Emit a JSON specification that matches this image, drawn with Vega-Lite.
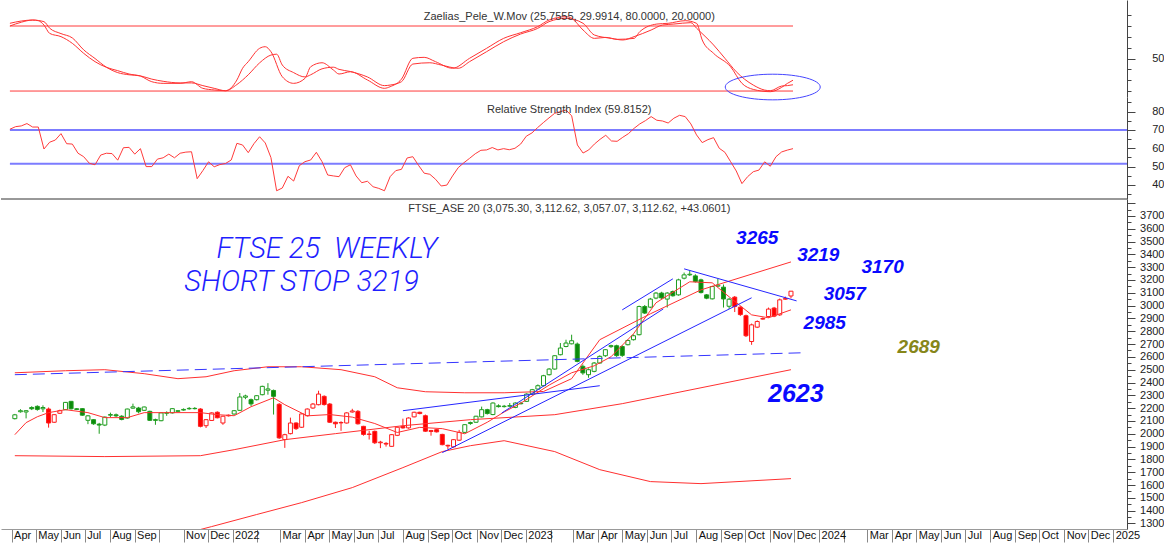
{
"$schema":"https://vega.github.io/schema/vega-lite/v6.json",
"padding":0,
"spacing":0,
"bounds":"flush",
"config":{"view":{"stroke":null},"font":"Liberation Sans","axis":{"labelFont":"Liberation Sans","labelFontSize":11,"labelColor":"#222","domainColor":"#444","tickColor":"#444","grid":false,"title":null}},
"datasets":{
"w":[
{"d":"2021-04-05","o":2118,"h":2155,"l":2112,"c":2148,"t":"G","r":70.4},
{"d":"2021-04-12","o":2172,"h":2192,"l":2165,"c":2180,"t":"G","r":71.8},
{"d":"2021-04-19","o":2170,"h":2185,"l":2120,"c":2180,"t":"G","r":72.2},
{"d":"2021-04-26","o":2205,"h":2215,"l":2185,"c":2195,"t":"G","r":73.5},
{"d":"2021-05-03","o":2214,"h":2222,"l":2180,"c":2190,"t":"G","r":71.6},
{"d":"2021-05-10","o":2195,"h":2222,"l":2170,"c":2205,"t":"G","r":71.6},
{"d":"2021-05-17","o":2193,"h":2205,"l":2048,"c":2084,"t":"R","r":59.6},
{"d":"2021-05-24","o":2090,"h":2152,"l":2085,"c":2149,"t":"R","r":63.3},
{"d":"2021-05-31","o":2160,"h":2188,"l":2155,"c":2180,"t":"R","r":64.5},
{"d":"2021-06-07","o":2188,"h":2248,"l":2185,"c":2245,"t":"G","r":68.0},
{"d":"2021-06-14","o":2253,"h":2256,"l":2190,"c":2195,"t":"G","r":62.5},
{"d":"2021-06-21","o":2195,"h":2200,"l":2185,"c":2190,"t":"G","r":62.3},
{"d":"2021-06-28","o":2196,"h":2200,"l":2140,"c":2145,"t":"G","r":57.3},
{"d":"2021-07-05","o":2105,"h":2145,"l":2075,"c":2140,"t":"G","r":55.4},
{"d":"2021-07-12","o":2110,"h":2115,"l":2070,"c":2078,"t":"G","r":51.8},
{"d":"2021-07-19","o":2075,"h":2085,"l":2000,"c":2068,"t":"G","r":51.0},
{"d":"2021-07-26","o":2068,"h":2135,"l":2060,"c":2130,"t":"G","r":56.3},
{"d":"2021-08-02","o":2145,"h":2165,"l":2130,"c":2150,"t":"G","r":57.3},
{"d":"2021-08-09","o":2148,"h":2158,"l":2130,"c":2140,"t":"G","r":57.1},
{"d":"2021-08-16","o":2137,"h":2145,"l":2105,"c":2112,"t":"G","r":53.5},
{"d":"2021-08-23","o":2123,"h":2196,"l":2118,"c":2193,"t":"G","r":60.3},
{"d":"2021-08-30","o":2200,"h":2235,"l":2195,"c":2210,"t":"G","r":60.5},
{"d":"2021-09-06","o":2201,"h":2210,"l":2160,"c":2172,"t":"G","r":56.8},
{"d":"2021-09-13","o":2183,"h":2212,"l":2178,"c":2209,"t":"G","r":59.8},
{"d":"2021-09-20","o":2175,"h":2180,"l":2100,"c":2105,"t":"G","r":50.0},
{"d":"2021-09-27","o":2110,"h":2118,"l":2070,"c":2105,"t":"G","r":50.0},
{"d":"2021-10-04","o":2102,"h":2168,"l":2098,"c":2163,"t":"G","r":54.1},
{"d":"2021-10-11","o":2160,"h":2175,"l":2140,"c":2165,"t":"G","r":54.8},
{"d":"2021-10-18","o":2163,"h":2200,"l":2158,"c":2196,"t":"G","r":56.8},
{"d":"2021-10-25","o":2175,"h":2185,"l":2170,"c":2180,"t":"G","r":54.8},
{"d":"2021-11-01","o":2185,"h":2198,"l":2180,"c":2190,"t":"G","r":57.3},
{"d":"2021-11-08","o":2195,"h":2208,"l":2188,"c":2198,"t":"G","r":57.9},
{"d":"2021-11-15","o":2198,"h":2208,"l":2190,"c":2196,"t":"G","r":58.1},
{"d":"2021-11-22","o":2193,"h":2200,"l":2050,"c":2058,"t":"R","r":43.4},
{"d":"2021-11-29","o":2063,"h":2115,"l":2045,"c":2110,"t":"R","r":47.8},
{"d":"2021-12-06","o":2104,"h":2168,"l":2100,"c":2163,"t":"R","r":52.6},
{"d":"2021-12-13","o":2168,"h":2175,"l":2120,"c":2125,"t":"R","r":49.9},
{"d":"2021-12-20","o":2084,"h":2140,"l":2070,"c":2137,"t":"R","r":51.1},
{"d":"2021-12-27","o":2140,"h":2150,"l":2135,"c":2145,"t":"R","r":51.7},
{"d":"2022-01-03","o":2154,"h":2185,"l":2150,"c":2180,"t":"G","r":53.6},
{"d":"2022-01-10","o":2183,"h":2318,"l":2178,"c":2287,"t":"G","r":62.7},
{"d":"2022-01-17","o":2285,"h":2305,"l":2270,"c":2295,"t":"G","r":61.8},
{"d":"2022-01-24","o":2266,"h":2275,"l":2215,"c":2233,"t":"G","r":57.6},
{"d":"2022-01-31","o":2266,"h":2300,"l":2260,"c":2297,"t":"G","r":62.5},
{"d":"2022-02-07","o":2305,"h":2375,"l":2300,"c":2370,"t":"G","r":66.3},
{"d":"2022-02-14","o":2340,"h":2395,"l":2305,"c":2350,"t":"G","r":62.9},
{"d":"2022-02-21","o":2338,"h":2345,"l":2150,"c":2292,"t":"G","r":54.9},
{"d":"2022-02-28","o":2230,"h":2240,"l":1960,"c":1968,"t":"R","r":36.8},
{"d":"2022-03-07","o":1955,"h":2000,"l":1890,"c":1993,"t":"R","r":38.3},
{"d":"2022-03-14","o":2001,"h":2126,"l":1995,"c":2084,"t":"R","r":44.7},
{"d":"2022-03-21","o":2084,"h":2090,"l":2030,"c":2040,"t":"R","r":42.1},
{"d":"2022-03-28","o":2051,"h":2160,"l":2045,"c":2155,"t":"R","r":50.5},
{"d":"2022-04-04","o":2141,"h":2198,"l":2135,"c":2193,"t":"R","r":52.7},
{"d":"2022-04-11","o":2201,"h":2240,"l":2195,"c":2232,"t":"R","r":53.6},
{"d":"2022-04-18","o":2227,"h":2336,"l":2222,"c":2310,"t":"R","r":57.8},
{"d":"2022-04-25","o":2292,"h":2300,"l":2220,"c":2228,"t":"R","r":52.7},
{"d":"2022-05-02","o":2232,"h":2240,"l":2085,"c":2090,"t":"R","r":45.4},
{"d":"2022-05-09","o":2090,"h":2095,"l":2045,"c":2078,"t":"R","r":44.9},
{"d":"2022-05-16","o":2085,"h":2098,"l":2023,"c":2088,"t":"R","r":44.5},
{"d":"2022-05-23","o":2084,"h":2168,"l":2080,"c":2163,"t":"R","r":49.4},
{"d":"2022-05-30","o":2170,"h":2195,"l":2165,"c":2178,"t":"R","r":51.0},
{"d":"2022-06-06","o":2175,"h":2185,"l":2072,"c":2078,"t":"R","r":44.9},
{"d":"2022-06-13","o":2058,"h":2062,"l":1985,"c":1995,"t":"R","r":41.2},
{"d":"2022-06-20","o":1995,"h":2023,"l":1955,"c":1998,"t":"R","r":42.0},
{"d":"2022-06-27","o":2019,"h":2025,"l":1920,"c":1930,"t":"R","r":39.0},
{"d":"2022-07-04","o":1930,"h":1945,"l":1888,"c":1935,"t":"R","r":38.1},
{"d":"2022-07-11","o":1925,"h":1935,"l":1900,"c":1920,"t":"R","r":36.8},
{"d":"2022-07-18","o":1902,"h":1998,"l":1898,"c":1993,"t":"R","r":44.5},
{"d":"2022-07-25","o":1988,"h":2055,"l":1982,"c":2051,"t":"R","r":47.8},
{"d":"2022-08-01","o":2058,"h":2118,"l":2040,"c":2046,"t":"R","r":48.5},
{"d":"2022-08-08","o":2046,"h":2128,"l":2040,"c":2123,"t":"R","r":54.7},
{"d":"2022-08-15","o":2132,"h":2172,"l":2128,"c":2168,"t":"R","r":55.4},
{"d":"2022-08-22","o":2168,"h":2172,"l":2152,"c":2158,"t":"R","r":50.7},
{"d":"2022-08-29","o":2141,"h":2150,"l":2015,"c":2020,"t":"R","r":46.4},
{"d":"2022-09-05","o":2025,"h":2030,"l":1985,"c":2018,"t":"R","r":45.8},
{"d":"2022-09-12","o":2032,"h":2036,"l":2010,"c":2015,"t":"R","r":43.1},
{"d":"2022-09-19","o":1995,"h":2000,"l":1910,"c":1915,"t":"R","r":39.4},
{"d":"2022-09-26","o":1910,"h":1915,"l":1880,"c":1905,"t":"R","r":39.9},
{"d":"2022-10-03","o":1898,"h":1958,"l":1893,"c":1954,"t":"R","r":44.9},
{"d":"2022-10-10","o":1950,"h":2030,"l":1945,"c":2011,"t":"R","r":49.4},
{"d":"2022-10-17","o":2011,"h":2075,"l":2005,"c":2071,"t":"G","r":52.1},
{"d":"2022-10-24","o":2080,"h":2095,"l":2070,"c":2088,"t":"G","r":54.5},
{"d":"2022-10-31","o":2090,"h":2140,"l":2085,"c":2137,"t":"G","r":57.0},
{"d":"2022-11-07","o":2132,"h":2212,"l":2128,"c":2188,"t":"G","r":58.9},
{"d":"2022-11-14","o":2188,"h":2195,"l":2150,"c":2158,"t":"G","r":59.1},
{"d":"2022-11-21","o":2150,"h":2245,"l":2145,"c":2240,"t":"G","r":60.4},
{"d":"2022-11-28","o":2218,"h":2230,"l":2205,"c":2212,"t":"G","r":59.1},
{"d":"2022-12-05","o":2212,"h":2225,"l":2205,"c":2215,"t":"G","r":59.8},
{"d":"2022-12-12","o":2215,"h":2240,"l":2210,"c":2220,"t":"G","r":59.2},
{"d":"2022-12-19","o":2206,"h":2245,"l":2200,"c":2240,"t":"G","r":60.0},
{"d":"2022-12-26","o":2235,"h":2250,"l":2228,"c":2238,"t":"G","r":62.3},
{"d":"2023-01-02","o":2253,"h":2315,"l":2248,"c":2310,"t":"G","r":66.6},
{"d":"2023-01-09","o":2310,"h":2350,"l":2305,"c":2344,"t":"G","r":68.4},
{"d":"2023-01-16","o":2349,"h":2385,"l":2345,"c":2375,"t":"G","r":71.3},
{"d":"2023-01-23","o":2375,"h":2460,"l":2370,"c":2453,"t":"G","r":74.0},
{"d":"2023-01-30","o":2461,"h":2512,"l":2455,"c":2505,"t":"G","r":76.6},
{"d":"2023-02-06","o":2505,"h":2612,"l":2500,"c":2609,"t":"G","r":79.1},
{"d":"2023-02-13","o":2617,"h":2708,"l":2612,"c":2669,"t":"G","r":80.0},
{"d":"2023-02-20","o":2681,"h":2734,"l":2675,"c":2708,"t":"G","r":80.9},
{"d":"2023-02-27","o":2702,"h":2773,"l":2698,"c":2726,"t":"G","r":77.7},
{"d":"2023-03-06","o":2700,"h":2712,"l":2558,"c":2565,"t":"G","r":61.8},
{"d":"2023-03-13","o":2526,"h":2540,"l":2460,"c":2475,"t":"G","r":57.4},
{"d":"2023-03-20","o":2461,"h":2510,"l":2437,"c":2500,"t":"G","r":59.1},
{"d":"2023-03-27","o":2487,"h":2560,"l":2480,"c":2552,"t":"G","r":62.3},
{"d":"2023-04-03","o":2552,"h":2612,"l":2548,"c":2604,"t":"G","r":64.9},
{"d":"2023-04-10","o":2609,"h":2660,"l":2600,"c":2656,"t":"G","r":67.1},
{"d":"2023-04-17","o":2680,"h":2695,"l":2670,"c":2688,"t":"G","r":64.0},
{"d":"2023-04-24","o":2687,"h":2695,"l":2600,"c":2610,"t":"G","r":63.8},
{"d":"2023-05-01","o":2681,"h":2690,"l":2600,"c":2612,"t":"G","r":66.0},
{"d":"2023-05-08","o":2695,"h":2735,"l":2690,"c":2728,"t":"G","r":68.0},
{"d":"2023-05-15","o":2734,"h":2775,"l":2728,"c":2765,"t":"G","r":70.9},
{"d":"2023-05-22","o":2773,"h":3000,"l":2768,"c":2993,"t":"G","r":73.3},
{"d":"2023-05-29","o":2993,"h":3005,"l":2935,"c":2942,"t":"G","r":75.1},
{"d":"2023-06-05","o":2988,"h":3060,"l":2980,"c":3051,"t":"G","r":77.3},
{"d":"2023-06-12","o":3059,"h":3105,"l":3050,"c":3098,"t":"G","r":75.3},
{"d":"2023-06-19","o":3098,"h":3108,"l":3052,"c":3060,"t":"G","r":74.9},
{"d":"2023-06-26","o":3051,"h":3105,"l":2985,"c":3098,"t":"G","r":73.8},
{"d":"2023-07-03","o":3110,"h":3118,"l":3070,"c":3077,"t":"G","r":76.4},
{"d":"2023-07-10","o":3084,"h":3210,"l":3078,"c":3201,"t":"G","r":78.0},
{"d":"2023-07-17","o":3214,"h":3258,"l":3205,"c":3240,"t":"G","r":77.3},
{"d":"2023-07-24","o":3240,"h":3274,"l":3232,"c":3245,"t":"G","r":73.3},
{"d":"2023-07-31","o":3232,"h":3245,"l":3180,"c":3188,"t":"G","r":67.3},
{"d":"2023-08-07","o":3201,"h":3210,"l":3095,"c":3102,"t":"G","r":63.1},
{"d":"2023-08-14","o":3084,"h":3090,"l":3050,"c":3058,"t":"G","r":64.7},
{"d":"2023-08-21","o":3053,"h":3155,"l":3048,"c":3149,"t":"G","r":65.8},
{"d":"2023-08-28","o":3152,"h":3209,"l":3145,"c":3160,"t":"G","r":60.0},
{"d":"2023-09-04","o":3144,"h":3165,"l":2985,"c":3052,"t":"G","r":57.8},
{"d":"2023-09-11","o":2995,"h":3060,"l":2975,"c":3050,"t":"G","r":52.7},
{"d":"2023-09-18","o":3066,"h":3075,"l":2950,"c":2993,"t":"R","r":47.6},
{"d":"2023-09-25","o":2988,"h":2995,"l":2920,"c":2930,"t":"R","r":40.7},
{"d":"2023-10-02","o":2921,"h":2930,"l":2755,"c":2765,"t":"R","r":44.5},
{"d":"2023-10-09","o":2720,"h":2860,"l":2694,"c":2850,"t":"R","r":47.2},
{"d":"2023-10-16","o":2832,"h":2885,"l":2825,"c":2876,"t":"R","r":48.1},
{"d":"2023-10-23","o":2895,"h":2908,"l":2890,"c":2900,"t":"R","r":52.6},
{"d":"2023-10-30","o":2915,"h":2985,"l":2905,"c":2973,"t":"R","r":50.2},
{"d":"2023-11-06","o":2981,"h":2990,"l":2910,"c":2918,"t":"R","r":55.4},
{"d":"2023-11-13","o":2928,"h":3055,"l":2920,"c":3045,"t":"R","r":58.0},
{"d":"2023-11-20","o":3050,"h":3070,"l":3045,"c":3055,"t":"R","r":59.0},
{"d":"2023-11-27","o":3075.3,"h":3112.62,"l":3057.07,"c":3112.62,"t":"R","r":59.8}
],
"zae":[
{"s":"A","d":"2021-04-05","v":82.5},{"s":"A","d":"2021-04-19","v":84.6},{"s":"A","d":"2021-05-03","v":85.5},{"s":"A","d":"2021-05-10","v":84.9},{"s":"A","d":"2021-05-17","v":80.9},{"s":"A","d":"2021-05-24","v":73.2},{"s":"A","d":"2021-06-07","v":70.2},{"s":"A","d":"2021-06-21","v":64.0},{"s":"A","d":"2021-07-05","v":54.8},{"s":"A","d":"2021-07-19","v":47.1},{"s":"A","d":"2021-08-02","v":41.9},{"s":"A","d":"2021-08-16","v":38.8},{"s":"A","d":"2021-08-30","v":35.7},{"s":"A","d":"2021-09-13","v":33.8},{"s":"A","d":"2021-09-27","v":28.6},{"s":"A","d":"2021-10-11","v":27.1},{"s":"A","d":"2021-11-01","v":27.1},{"s":"A","d":"2021-11-15","v":28.6},{"s":"A","d":"2021-11-29","v":22.5},{"s":"A","d":"2021-12-13","v":21.0},{"s":"A","d":"2021-12-27","v":20.3},{"s":"A","d":"2022-01-10","v":30.2},{"s":"A","d":"2022-01-17","v":41.0},{"s":"A","d":"2022-01-24","v":47.1},{"s":"A","d":"2022-02-07","v":59.4},{"s":"A","d":"2022-02-14","v":60.9},{"s":"A","d":"2022-02-21","v":56.3},{"s":"A","d":"2022-03-07","v":33.2},{"s":"A","d":"2022-03-21","v":27.1},{"s":"A","d":"2022-04-04","v":31.7},{"s":"A","d":"2022-04-11","v":42.4},{"s":"A","d":"2022-04-25","v":46.1},{"s":"A","d":"2022-05-09","v":39.4},{"s":"A","d":"2022-05-16","v":35.7},{"s":"A","d":"2022-05-30","v":37.8},{"s":"A","d":"2022-06-20","v":30.2},{"s":"A","d":"2022-07-11","v":22.5},{"s":"A","d":"2022-07-18","v":24.0},{"s":"A","d":"2022-08-01","v":31.0},{"s":"A","d":"2022-08-15","v":50.2},{"s":"A","d":"2022-08-29","v":51.1},{"s":"A","d":"2022-09-12","v":47.1},{"s":"A","d":"2022-10-03","v":41.0},{"s":"A","d":"2022-10-24","v":50.2},{"s":"A","d":"2022-11-14","v":59.4},{"s":"A","d":"2022-12-05","v":68.6},{"s":"A","d":"2022-12-26","v":73.8},{"s":"A","d":"2023-01-16","v":79.4},{"s":"A","d":"2023-01-30","v":85.5},{"s":"A","d":"2023-02-20","v":88.6},{"s":"A","d":"2023-02-27","v":87.1},{"s":"A","d":"2023-03-13","v":76.3},{"s":"A","d":"2023-03-27","v":68.6},{"s":"A","d":"2023-04-10","v":69.5},{"s":"A","d":"2023-04-24","v":67.7},{"s":"A","d":"2023-05-15","v":68.6},{"s":"A","d":"2023-05-22","v":74.8},{"s":"A","d":"2023-06-12","v":81.8},{"s":"A","d":"2023-06-26","v":82.5},{"s":"A","d":"2023-07-17","v":84.9},{"s":"A","d":"2023-07-31","v":82.5},{"s":"A","d":"2023-08-07","v":67.1},{"s":"A","d":"2023-08-21","v":54.8},{"s":"A","d":"2023-09-11","v":42.4},{"s":"A","d":"2023-09-25","v":27.1},{"s":"A","d":"2023-10-09","v":21.5},{"s":"A","d":"2023-10-30","v":19.4},{"s":"A","d":"2023-11-13","v":23.4},{"s":"A","d":"2023-11-20","v":27.0},{"s":"A","d":"2023-11-27","v":30.0},
{"s":"B","d":"2021-04-05","v":80.0},{"s":"B","d":"2021-04-19","v":83.5},{"s":"B","d":"2021-05-03","v":85.5},{"s":"B","d":"2021-05-17","v":84.0},{"s":"B","d":"2021-05-24","v":78.0},{"s":"B","d":"2021-06-07","v":73.0},{"s":"B","d":"2021-06-21","v":69.0},{"s":"B","d":"2021-07-05","v":58.0},{"s":"B","d":"2021-07-19","v":50.0},{"s":"B","d":"2021-08-02","v":42.0},{"s":"B","d":"2021-08-16","v":37.0},{"s":"B","d":"2021-08-30","v":35.0},{"s":"B","d":"2021-09-13","v":34.0},{"s":"B","d":"2021-09-27","v":31.0},{"s":"B","d":"2021-10-11","v":29.0},{"s":"B","d":"2021-11-01","v":27.5},{"s":"B","d":"2021-11-15","v":27.5},{"s":"B","d":"2021-11-29","v":25.0},{"s":"B","d":"2021-12-13","v":22.5},{"s":"B","d":"2021-12-27","v":20.3},{"s":"B","d":"2022-01-10","v":26.0},{"s":"B","d":"2022-01-24","v":35.0},{"s":"B","d":"2022-02-07","v":46.0},{"s":"B","d":"2022-02-21","v":53.2},{"s":"B","d":"2022-02-28","v":54.0},{"s":"B","d":"2022-03-07","v":44.0},{"s":"B","d":"2022-03-21","v":37.0},{"s":"B","d":"2022-04-04","v":33.0},{"s":"B","d":"2022-04-11","v":35.0},{"s":"B","d":"2022-04-25","v":40.5},{"s":"B","d":"2022-05-09","v":42.0},{"s":"B","d":"2022-05-16","v":40.0},{"s":"B","d":"2022-05-30","v":38.0},{"s":"B","d":"2022-06-20","v":33.0},{"s":"B","d":"2022-07-11","v":25.0},{"s":"B","d":"2022-07-18","v":25.5},{"s":"B","d":"2022-08-01","v":28.6},{"s":"B","d":"2022-08-15","v":44.9},{"s":"B","d":"2022-09-05","v":46.1},{"s":"B","d":"2022-09-19","v":44.0},{"s":"B","d":"2022-10-10","v":41.0},{"s":"B","d":"2022-10-24","v":47.1},{"s":"B","d":"2022-11-14","v":56.3},{"s":"B","d":"2022-12-05","v":65.5},{"s":"B","d":"2022-12-26","v":72.6},{"s":"B","d":"2023-01-16","v":77.8},{"s":"B","d":"2023-01-30","v":84.0},{"s":"B","d":"2023-02-20","v":87.1},{"s":"B","d":"2023-03-13","v":82.5},{"s":"B","d":"2023-03-27","v":71.7},{"s":"B","d":"2023-04-17","v":68.6},{"s":"B","d":"2023-05-01","v":67.1},{"s":"B","d":"2023-05-15","v":70.2},{"s":"B","d":"2023-06-05","v":76.3},{"s":"B","d":"2023-06-19","v":80.9},{"s":"B","d":"2023-07-03","v":81.8},{"s":"B","d":"2023-07-24","v":83.1},{"s":"B","d":"2023-07-31","v":78.0},{"s":"B","d":"2023-08-21","v":62.5},{"s":"B","d":"2023-09-04","v":50.2},{"s":"B","d":"2023-09-18","v":37.8},{"s":"B","d":"2023-10-09","v":25.5},{"s":"B","d":"2023-10-23","v":20.9},{"s":"B","d":"2023-10-30","v":20.3},{"s":"B","d":"2023-11-13","v":24.6},{"s":"B","d":"2023-11-20","v":25.0},{"s":"B","d":"2023-11-27","v":25.8}
],
"ma":[
{"s":"m10","d":"2021-04-05","v":1993},{"s":"m10","d":"2021-04-19","v":2087},{"s":"m10","d":"2021-05-03","v":2133},{"s":"m10","d":"2021-05-17","v":2165},{"s":"m10","d":"2021-06-07","v":2188},{"s":"m10","d":"2021-07-05","v":2165},{"s":"m10","d":"2021-07-26","v":2126},{"s":"m10","d":"2021-08-23","v":2126},{"s":"m10","d":"2021-09-13","v":2165},{"s":"m10","d":"2021-10-11","v":2165},{"s":"m10","d":"2021-11-22","v":2165},{"s":"m10","d":"2021-12-13","v":2149},{"s":"m10","d":"2022-01-03","v":2141},{"s":"m10","d":"2022-01-24","v":2211},{"s":"m10","d":"2022-02-21","v":2281},{"s":"m10","d":"2022-03-07","v":2227},{"s":"m10","d":"2022-04-04","v":2140},{"s":"m10","d":"2022-05-02","v":2150},{"s":"m10","d":"2022-05-30","v":2130},{"s":"m10","d":"2022-06-27","v":2080},{"s":"m10","d":"2022-07-25","v":2010},{"s":"m10","d":"2022-08-22","v":2050},{"s":"m10","d":"2022-09-19","v":2040},{"s":"m10","d":"2022-10-17","v":2000},{"s":"m10","d":"2022-11-14","v":2090},{"s":"m10","d":"2022-12-05","v":2170},{"s":"m10","d":"2022-12-26","v":2240},{"s":"m10","d":"2023-01-30","v":2380},{"s":"m10","d":"2023-02-27","v":2476},{"s":"m10","d":"2023-03-27","v":2530},{"s":"m10","d":"2023-04-17","v":2601},{"s":"m10","d":"2023-05-15","v":2780},{"s":"m10","d":"2023-06-12","v":3022},{"s":"m10","d":"2023-07-24","v":3186},{"s":"m10","d":"2023-08-21","v":3178},{"s":"m10","d":"2023-09-11","v":3069},{"s":"m10","d":"2023-10-09","v":2928},{"s":"m10","d":"2023-10-30","v":2905},{"s":"m10","d":"2023-11-27","v":2967},
{"s":"m52","d":"2021-04-05","v":1829},{"s":"m52","d":"2021-07-26","v":1822},{"s":"m52","d":"2021-11-22","v":1829},{"s":"m52","d":"2022-01-03","v":1876},{"s":"m52","d":"2022-03-07","v":1954},{"s":"m52","d":"2022-05-09","v":2001},{"s":"m52","d":"2022-08-01","v":2063},{"s":"m52","d":"2022-10-24","v":2110},{"s":"m52","d":"2023-02-06","v":2149},{"s":"m52","d":"2023-05-01","v":2235},{"s":"m52","d":"2023-08-07","v":2359},{"s":"m52","d":"2023-11-27","v":2500},
{"s":"up","d":"2021-04-05","v":2476},{"s":"up","d":"2021-06-07","v":2492},{"s":"up","d":"2021-07-26","v":2500},{"s":"up","d":"2021-09-13","v":2469},{"s":"up","d":"2021-10-25","v":2430},{"s":"up","d":"2021-11-29","v":2445},{"s":"up","d":"2022-01-03","v":2492},{"s":"up","d":"2022-02-14","v":2523},{"s":"up","d":"2022-03-28","v":2523},{"s":"up","d":"2022-05-16","v":2500},{"s":"up","d":"2022-06-27","v":2445},{"s":"up","d":"2022-07-25","v":2359},{"s":"up","d":"2022-08-29","v":2328},{"s":"up","d":"2022-10-17","v":2320},{"s":"up","d":"2022-12-05","v":2320},{"s":"up","d":"2023-01-23","v":2330},{"s":"up","d":"2023-02-27","v":2430},{"s":"up","d":"2023-04-03","v":2734},{"s":"up","d":"2023-06-05","v":2936},{"s":"up","d":"2023-08-07","v":3123},{"s":"up","d":"2023-11-27","v":3341},
{"s":"lo","d":"2021-04-05","v":1183},{"s":"lo","d":"2021-07-26","v":1144},{"s":"lo","d":"2021-11-22","v":1253},{"s":"lo","d":"2021-12-06","v":1276},{"s":"lo","d":"2022-01-31","v":1370},{"s":"lo","d":"2022-03-28","v":1463},{"s":"lo","d":"2022-05-30","v":1580},{"s":"lo","d":"2022-08-01","v":1736},{"s":"lo","d":"2022-09-19","v":1861},{"s":"lo","d":"2022-10-24","v":1907},{"s":"lo","d":"2022-12-05","v":1946},{"s":"lo","d":"2023-02-06","v":1861},{"s":"lo","d":"2023-04-03","v":1720},{"s":"lo","d":"2023-06-05","v":1627},{"s":"lo","d":"2023-08-07","v":1611},{"s":"lo","d":"2023-11-27","v":1650}
]
},
"vconcat":[
{
"width":1126,"height":97,
"encoding":{
"x":{"field":"d","type":"temporal","scale":{"type":"utc","domain":[{"year":2021,"month":3,"date":25,"utc":true},{"year":2025,"month":1,"date":12,"utc":true}]},"axis":null},
"y":{"field":"v","type":"quantitative","scale":{"domain":[14.5,104],"nice":false,"zero":false},"axis":{"orient":"right","values":[20,30,40,50,60,70,80,90],"labelExpr":"datum.value==50?'50':''","tickSize":{"condition":{"test":"datum.value==50","value":8},"value":4},"labelAlign":"right","labelPadding":29,"labelOverlap":false,"labelBound":false,"labelFlush":false}}
},
"layer":[
{"data":{"values":[{"d":"2021-04-05","d2":"2023-11-27","v":80},{"d":"2021-04-05","d2":"2023-11-27","v":20}]},"mark":{"type":"rule","color":"#ff3b3b","strokeWidth":1},"encoding":{"x2":{"field":"d2"}}},
{"data":{"name":"zae"},"mark":{"type":"line","color":"#ff3333","strokeWidth":1,"interpolate":"monotone"},"encoding":{"detail":{"field":"s","type":"nominal"}}},
{"data":{"values":[{"d":"2023-11-02","v":23.7}]},"mark":{"type":"point","shape":"M-1,0A1,0.27,0,1,1,1,0A1,0.27,0,1,1,-1,0Z","size":9025,"filled":false,"color":"#4646ff","strokeWidth":1,"opacity":1}},
{"data":{"values":[{"d":"2023-02-24","v":88.3,"txt":"Zaelias_Pele_W.Mov (25.7555, 29.9914, 80.0000, 20.0000)"}]},"mark":{"type":"text","fontSize":11,"color":"#333","align":"center","baseline":"middle"},"encoding":{"text":{"field":"txt"}}}
]
},
{
"width":1126,"height":102,
"encoding":{
"x":{"field":"d","type":"temporal","scale":{"type":"utc","domain":[{"year":2021,"month":3,"date":25,"utc":true},{"year":2025,"month":1,"date":12,"utc":true}]},"axis":null},
"y":{"field":"r","type":"quantitative","scale":{"domain":[32.3,88],"nice":false,"zero":false},"axis":{"orient":"right","values":[35,40,45,50,55,60,65,70,75,80,85],"labelExpr":"datum.value%10==0?datum.label:''","tickSize":{"condition":{"test":"datum.value%10==0","value":8},"value":4},"labelAlign":"right","labelPadding":29,"labelOverlap":false,"labelBound":false,"labelFlush":false}}
},
"layer":[
{"data":{"values":[{"d":"2021-04-05","d2":"2025-01-12","r":70},{"d":"2021-04-05","d2":"2025-01-12","r":51.6}]},"mark":{"type":"rule","color":"#7c7cff","strokeWidth":2},"encoding":{"x2":{"field":"d2"}}},
{"data":{"name":"w"},"mark":{"type":"line","color":"#ff3b3b","strokeWidth":1}},
{"data":{"values":[{"d":"2021-03-25","d2":"2025-01-12","r":32.3}]},"mark":{"type":"rule","color":"#333","strokeWidth":1},"encoding":{"x2":{"field":"d2"}}},
{"data":{"values":[{"d":"2023-02-24","r":80.9,"txt":"Relative Strength Index (59.8152)"}]},"mark":{"type":"text","fontSize":11,"color":"#333","align":"center","baseline":"middle"},"encoding":{"text":{"field":"txt"}}}
]
},
{
"width":1126,"height":330,
"encoding":{
"x":{"field":"d","type":"temporal","scale":{"type":"utc","domain":[{"year":2021,"month":3,"date":25,"utc":true},{"year":2025,"month":1,"date":12,"utc":true}]},"axis":{"orient":"bottom","tickCount":{"interval":"month","step":1},"labelExpr":"utcmonth(datum.value)==0 ? utcFormat(datum.value,'%Y') : ((utcmonth(datum.value)==1 || (utcyear(datum.value)==2021 && utcmonth(datum.value)==9)) ? '' : utcFormat(datum.value,'%b'))","tickSize":13,"labelPadding":-13,"labelAlign":"left","labelBaseline":"top","labelOffset":2,"labelFontSize":11,"labelColor":"#111","domainColor":"#999","tickColor":"#888","labelOverlap":false,"labelFlush":false,"labelBound":false}},
"y":{"field":"v","type":"quantitative","scale":{"domain":[1257,3832],"nice":false,"zero":false},"axis":{"orient":"right","values":[1300,1350,1400,1450,1500,1550,1600,1650,1700,1750,1800,1850,1900,1950,2000,2050,2100,2150,2200,2250,2300,2350,2400,2450,2500,2550,2600,2650,2700,2750,2800,2850,2900,2950,3000,3050,3100,3150,3200,3250,3300,3350,3400,3450,3500,3550,3600,3650,3700,3750,3800],"format":"d","labelExpr":"datum.value%100==0 && datum.value<=3700 ? datum.label : ''","tickSize":{"condition":{"test":"datum.value%100==0","value":8},"value":4},"labelAlign":"right","labelPadding":29,"labelOverlap":false,"labelBound":false,"labelFlush":false}}
},
"layer":[
{"data":{"name":"w"},"mark":{"type":"rule","strokeWidth":1},"encoding":{"y":{"field":"l","type":"quantitative","scale":{"domain":[1257,3832],"nice":false,"zero":false},"axis":{"orient":"right","values":[1300,1350,1400,1450,1500,1550,1600,1650,1700,1750,1800,1850,1900,1950,2000,2050,2100,2150,2200,2250,2300,2350,2400,2450,2500,2550,2600,2650,2700,2750,2800,2850,2900,2950,3000,3050,3100,3150,3200,3250,3300,3350,3400,3450,3500,3550,3600,3650,3700,3750,3800],"format":"d","labelExpr":"datum.value%100==0 && datum.value<=3700 ? datum.label : ''","tickSize":{"condition":{"test":"datum.value%100==0","value":8},"value":4},"labelAlign":"right","labelPadding":29,"labelOverlap":false,"labelBound":false,"labelFlush":false}},"y2":{"field":"h"},"color":{"field":"t","type":"nominal","scale":{"domain":["G","R"],"range":["#1f9d1f","#ff1c1c"]},"legend":null}}},
{"data":{"name":"w"},"mark":{"type":"bar","width":4,"strokeWidth":1},"encoding":{"y":{"field":"o","type":"quantitative","scale":{"domain":[1257,3832],"nice":false,"zero":false},"axis":{"orient":"right","values":[1300,1350,1400,1450,1500,1550,1600,1650,1700,1750,1800,1850,1900,1950,2000,2050,2100,2150,2200,2250,2300,2350,2400,2450,2500,2550,2600,2650,2700,2750,2800,2850,2900,2950,3000,3050,3100,3150,3200,3250,3300,3350,3400,3450,3500,3550,3600,3650,3700,3750,3800],"format":"d","labelExpr":"datum.value%100==0 && datum.value<=3700 ? datum.label : ''","tickSize":{"condition":{"test":"datum.value%100==0","value":8},"value":4},"labelAlign":"right","labelPadding":29,"labelOverlap":false,"labelBound":false,"labelFlush":false}},"y2":{"field":"c"},"stroke":{"field":"t","type":"nominal","scale":{"domain":["G","R"],"range":["#1f9d1f","#ff1c1c"]},"legend":null},"fill":{"condition":{"test":"datum.c>datum.o","value":"#ffffff"},"field":"t","type":"nominal","scale":{"domain":["G","R"],"range":["#0b8a0b","#ff0000"]},"legend":null}}},
{"data":{"name":"ma"},"mark":{"type":"line","color":"#ff3030","strokeWidth":1,"clip":true},"encoding":{"detail":{"field":"s","type":"nominal"}}},
{"data":{"values":[{"s":"a","d":"2022-08-01","v":2180},{"s":"a","d":"2023-04-03","v":2375},{"s":"b","d":"2022-09-19","v":1853},{"s":"b","d":"2023-10-09","v":3061},{"s":"c","d":"2023-05-01","v":2967},{"s":"c","d":"2023-07-03","v":3209},{"s":"e","d":"2023-07-17","v":3287},{"s":"e","d":"2023-12-04","v":3037},{"s":"f","d":"2022-12-02","v":2162},{"s":"f","d":"2023-06-21","v":2974}]},"mark":{"type":"line","color":"#2525ff","strokeWidth":1},"encoding":{"detail":{"field":"s","type":"nominal"}}},
{"data":{"values":[{"d":"2021-04-05","v":2461},{"d":"2023-12-11","v":2632}]},"mark":{"type":"line","color":"#3535ff","strokeWidth":1,"strokeDash":[12,6]}},
{"data":{"values":[{"d":"2023-02-24","v":3755,"txt":"FTSE_ASE 20 (3,075.30, 3,112.62, 3,057.07, 3,112.62, +43.0601)"}]},"mark":{"type":"text","fontSize":11,"color":"#333","align":"center","baseline":"middle"},"encoding":{"text":{"field":"txt"}}},
{"data":{"values":[{"d":"2021-12-12","v":3373,"txt":"FTSE 25\u00a0 WEEKLY"},{"d":"2021-11-02","v":3115,"txt":"SHORT STOP 3219"}]},"mark":{"type":"text","font":"Roboto","fontSize":29,"fontStyle":"italic","fontWeight":300,"color":"#1f1fff","align":"left","baseline":"alphabetic"},"encoding":{"text":{"field":"txt"}}},
{"data":{"values":[{"d":"2023-10-16","v":3529,"txt":"3265"},{"d":"2023-12-31","v":3396,"txt":"3219"},{"d":"2024-03-20","v":3303,"txt":"3170"},{"d":"2024-02-02","v":3092,"txt":"3057"},{"d":"2024-01-08","v":2866,"txt":"2985"}]},"mark":{"type":"text","fontSize":19,"fontStyle":"italic","fontWeight":"bold","color":"#0a0aff","align":"center","baseline":"middle"},"encoding":{"text":{"field":"txt"}}},
{"data":{"values":[{"d":"2024-05-04","v":2679,"txt":"2689"}]},"mark":{"type":"text","fontSize":19,"fontStyle":"italic","fontWeight":"bold","color":"#86861a","align":"center","baseline":"middle"},"encoding":{"text":{"field":"txt"}}},
{"data":{"values":[{"d":"2023-12-03","v":2313,"txt":"2623"}]},"mark":{"type":"text","fontSize":25,"fontStyle":"italic","fontWeight":"bold","color":"#0a0aff","align":"center","baseline":"middle"},"encoding":{"text":{"field":"txt"}}}
]
}
]
}
